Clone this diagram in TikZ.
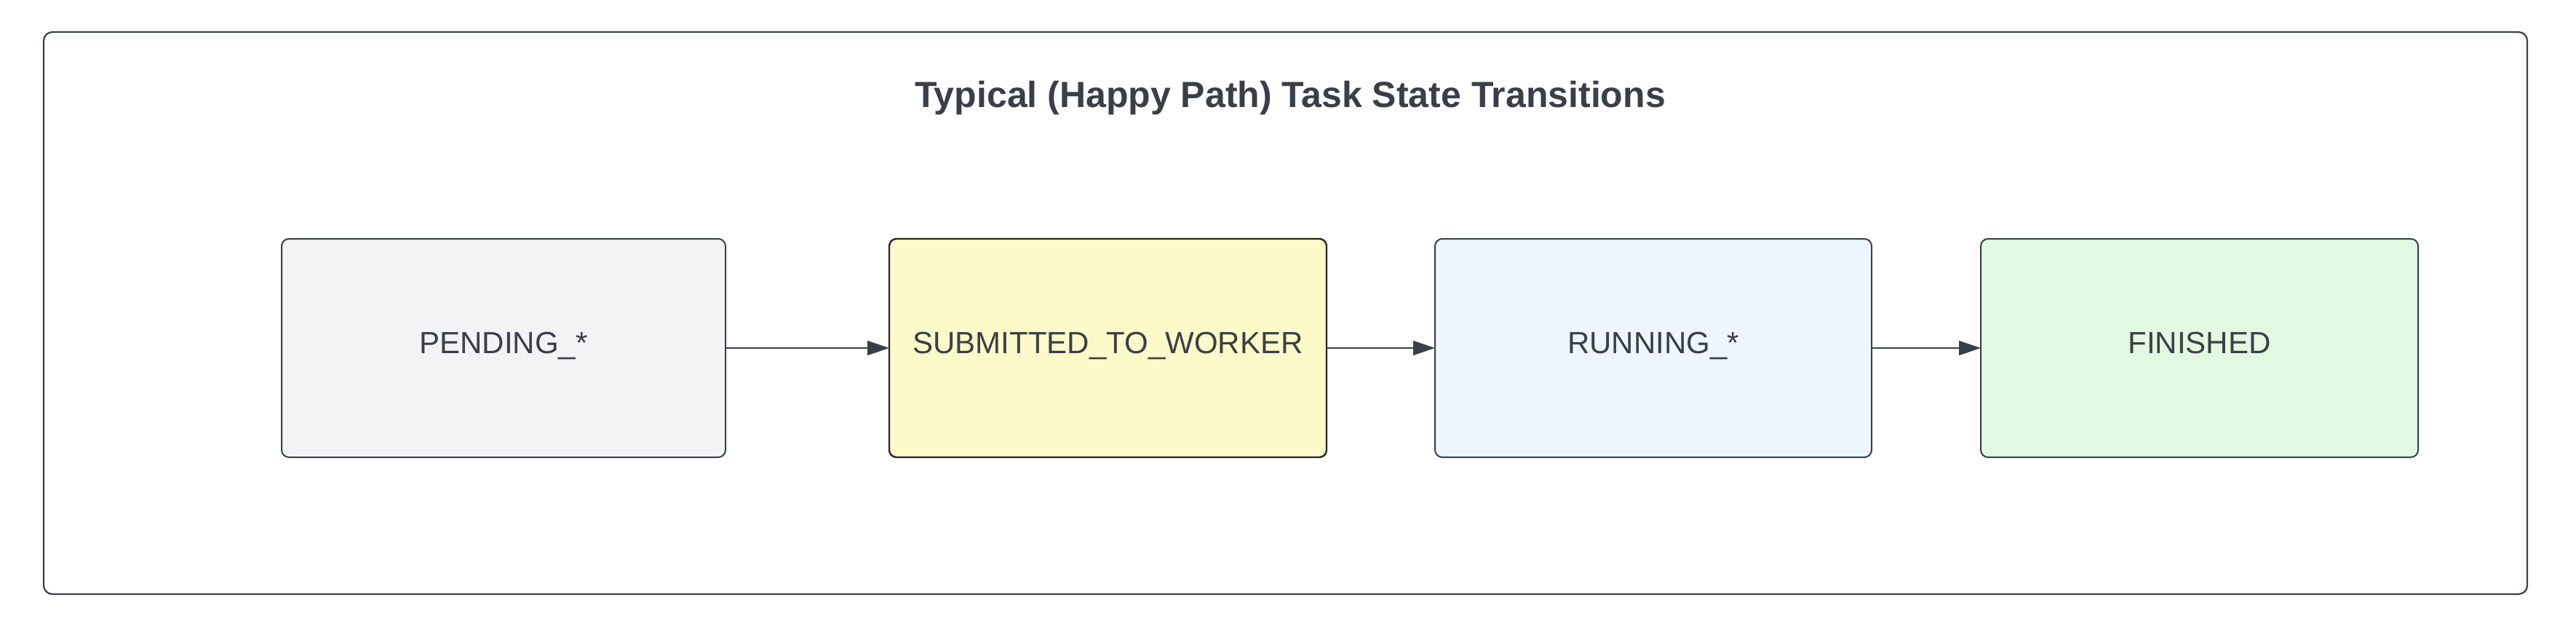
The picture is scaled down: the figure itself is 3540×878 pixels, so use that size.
\documentclass[tikz,border=0pt]{standalone}
\usepackage{fontspec}
\setmainfont{Liberation Sans}
\usetikzlibrary{arrows.meta}
\definecolor{ink}{HTML}{3A3F47}
\definecolor{pendfill}{HTML}{F2F3F5}
\definecolor{subfill}{HTML}{FCFAC8}
\definecolor{runfill}{HTML}{EDF5FF}
\definecolor{finfill}{HTML}{E2F9E1}
\tikzset{
  statebox/.style={draw=ink, line width=2pt, rounded corners=10pt, inner sep=0pt, outer sep=0pt,
    minimum width=600pt, minimum height=300pt, text=ink,
    font=\fontsize{42}{50}\selectfont, text height=14pt, text depth=0pt},
  flow/.style={draw=ink, line width=1.5pt, -{Triangle[length=30pt,width=20pt]}},
  frame/.style={draw=ink, line width=2.2pt, rounded corners=12pt}
}
\begin{document}
\begin{tikzpicture}[x=1pt,y=-1pt]
\useasboundingbox (0,0) rectangle (3540,878);
\node[frame, inner sep=0pt, minimum width=3413pt, minimum height=772pt] (fr) at (1766.5,430) {};
\node[text=ink, font=\bfseries\fontsize{50}{60}\selectfont, anchor=base] (title) at (1773,147) {Typical (Happy Path) Task State Transitions};
\node[statebox, fill=pendfill, minimum width=610pt] (pend) at (692,478) {PENDING\_*};
\node[statebox, fill=subfill, draw=black!85, line width=2.4pt, minimum width=601pt] (sub) at (1522.5,478) {SUBMITTED\_TO\_WORKER};
\node[statebox, fill=runfill] (run) at (2272,478) {RUNNING\_*};
\node[statebox, fill=finfill, minimum width=601pt] (fin) at (3022.5,478) {FINISHED};
\draw[flow] (pend.east) -- (sub.west);
\draw[flow] (sub.east) -- (run.west);
\draw[flow] (run.east) -- (fin.west);
\end{tikzpicture}
\end{document}
